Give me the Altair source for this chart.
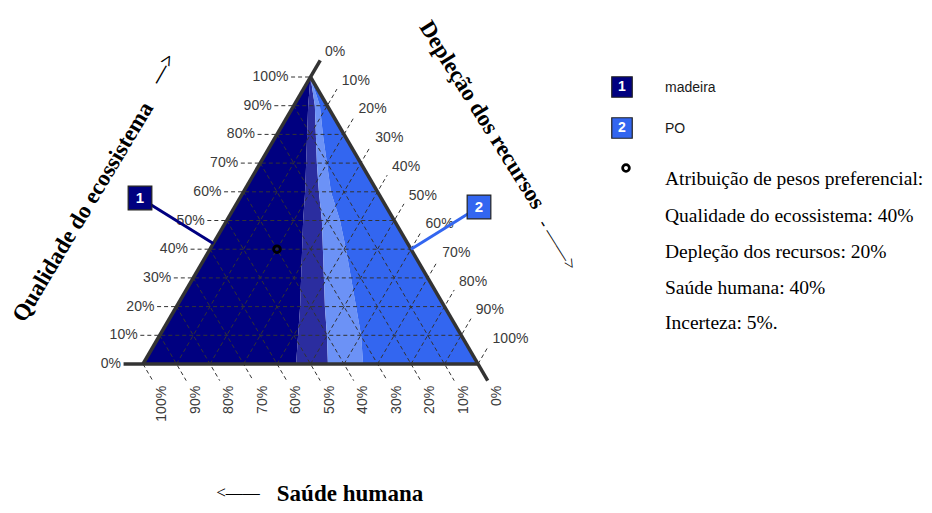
import altair as alt
import pandas as pd
import numpy as np

H = float(np.sqrt(3) / 2)

# ---------------- data ----------------
levels = [0.0, 0.1, 0.2, 0.3, 0.4, 0.5, 0.6, 0.7, 0.8, 0.9, 1.0]
tick_labels = ["0%", "10%", "20%", "30%", "40%", "50%", "60%", "70%", "80%", "90%", "100%"]

# Depleção share (per Qualidade level) where the dominance map changes
navy_end_D = [0.457, 0.413, 0.369, 0.322, 0.275, 0.228, 0.184, 0.137, 0.090, 0.043, 0.0]
mix_mid_D = [0.552, 0.499, 0.443, 0.390, 0.337, 0.284, 0.225, 0.169, 0.116, 0.063, 0.0]
mix_end_D = [0.657, 0.601, 0.536, 0.471, 0.406, 0.338, 0.261, 0.199, 0.137, 0.078, 0.0]

region_names = ["madeira", "mistura madeira", "mistura PO", "PO"]
region_colors = ["#000080", "#2b2d9f", "#6c92f6", "#3366F0"]

pref_Q, pref_D, pref_S = 0.40, 0.20, 0.40

legend_items = ["madeira", "PO"]
legend_nums = ["1", "2"]
legend_colors = ["#000080", "#3366F0"]
legend_notes = [
    "Atribuição de pesos preferencial:",
    "Qualidade do ecossistema: 40%",
    "Depleção dos recursos: 20%",
    "Saúde humana: 40%",
    "Incerteza: 5%.",
]

# ---------------- geometry / scales ----------------
W, HGT = 916, 497
PX_X = 335.0
PX_Y = 287.0 / H
xmin = -135.0 / PX_X
xmax = xmin + W / PX_X
ymax = 356.0 / PX_Y
ymin = ymax - HGT / PX_Y
XS = alt.Scale(domain=[xmin, xmax], nice=False, zero=False)
YS = alt.Scale(domain=[ymin, ymax], nice=False, zero=False)


def pos(px, py):
    """page pixel -> chart units (layout of annotations)"""
    return (px - 143.0) / PX_X, (364.0 - py) / PX_Y


def tern(q, d):
    return d + 0.5 * q, q * H


EXT = 0.058

# ---- regions (one table per region) ----
bounds = []
for i, q in enumerate(levels):
    bounds.append([0.5 * q, tern(q, navy_end_D[i])[0], tern(q, mix_mid_D[i])[0],
                   tern(q, mix_end_D[i])[0], 1 - 0.5 * q])

area_layers = []
for k, (name, col) in enumerate(zip(region_names, region_colors)):
    df = pd.DataFrame({
        "y": [q * H for q in levels],
        "xl": [b[k] for b in bounds],
        "xr": [b[k + 1] for b in bounds],
    })
    area_layers.append(
        alt.Chart(df).mark_area(orient="horizontal", color=col, opacity=1, interpolate="linear").encode(
            y=alt.Y("y:Q", scale=YS, axis=None),
            x=alt.X("xl:Q", scale=XS, axis=None, stack=None),
            x2="xr:Q",
        )
    )

# ---- grid lines ----
grid = []
qlab, dlab, slab = [], [], []
for v, lab in zip(levels, tick_labels):
    y = v * H
    if v > 0:
        grid.append({"x": 0.5 * v - EXT, "y": y, "x2": 1 - 0.5 * v, "y2": y})
    qlab.append({"x": 0.5 * v - 0.066, "y": y, "t": lab})
    xb, yb = v, 0.0
    xe, ye = v + 0.5 * (1 - v), (1 - v) * H
    if v > 0:
        grid.append({"x": xb, "y": yb, "x2": xe + 0.5 * EXT, "y2": ye + H * EXT})
    dlab.append({"x": xe + 0.0435, "y": ye + 0.0753, "t": lab})
    xs_, ys_ = 0.5 * (1 - v), (1 - v) * H
    xb2 = 1 - v
    if v > 0:
        grid.append({"x": xs_, "y": ys_, "x2": xb2 + 0.5 * EXT, "y2": -H * EXT})
    slab.append({"x": xb2 + 0.057, "y": -0.066, "t": lab})

grid = pd.DataFrame(grid)
edges = pd.DataFrame([
    {"x": -EXT, "y": 0.0, "x2": 1.0, "y2": 0.0},
    {"x": 0.5, "y": H, "x2": 1 + 0.5 * EXT, "y2": -H * EXT},
    {"x": 0.0, "y": 0.0, "x2": 0.5 + 0.5 * EXT, "y2": H + H * EXT},
])
qlab = pd.DataFrame(qlab)
dlab = pd.DataFrame(dlab)
slab = pd.DataFrame(slab)


def enc_xy(ch):
    return ch.encode(x=alt.X("x:Q", scale=XS, axis=None), y=alt.Y("y:Q", scale=YS, axis=None))


gridl = alt.Chart(grid).mark_rule(color="#333333", strokeWidth=1, strokeDash=[4, 3]).encode(
    x=alt.X("x:Q", scale=XS, axis=None), y=alt.Y("y:Q", scale=YS, axis=None), x2="x2:Q", y2="y2:Q"
)
edgel = alt.Chart(edges).mark_rule(color="#333333", strokeWidth=3.5).encode(
    x=alt.X("x:Q", scale=XS, axis=None), y=alt.Y("y:Q", scale=YS, axis=None), x2="x2:Q", y2="y2:Q"
)

tick_font = dict(font="Liberation Sans", fontSize=14, color="#3a3a3a")
qtext = enc_xy(alt.Chart(qlab).mark_text(align="right", baseline="middle", **tick_font)).encode(text="t:N")
dtext = enc_xy(alt.Chart(dlab).mark_text(align="left", baseline="middle", **tick_font)).encode(text="t:N")
stext = enc_xy(alt.Chart(slab).mark_text(align="right", baseline="middle", angle=270, **tick_font)).encode(text="t:N")

# leader lines + numbered boxes on the triangle
b1 = pos(140, 198)
b2 = pos(479, 207)
l1 = tern(0.42, 0.0)
l2 = tern(0.40, 0.60)
layers_boxes = []
for (bx, by), (lx, ly), col, num in zip([b1, b2], [l1, l2], legend_colors, legend_nums):
    ld = pd.DataFrame([{"x": bx, "y": by, "x2": lx, "y2": ly}])
    layers_boxes.append(
        alt.Chart(ld).mark_rule(strokeWidth=3, color=col).encode(
            x=alt.X("x:Q", scale=XS, axis=None), y=alt.Y("y:Q", scale=YS, axis=None), x2="x2:Q", y2="y2:Q"
        )
    )
    bd = pd.DataFrame([{"x": bx, "y": by, "n": num}])
    layers_boxes.append(enc_xy(alt.Chart(bd).mark_square(size=560, opacity=1, color=col, stroke="#222222", strokeWidth=1.2)))
    layers_boxes.append(enc_xy(alt.Chart(bd).mark_text(font="Liberation Sans", fontSize=15, fontWeight="bold", color="white")).encode(text="n:N"))

for (px, py), col, num, name in zip([(622, 87), (622, 128)], legend_colors, legend_nums, legend_items):
    bx, by = pos(px, py)
    bd = pd.DataFrame([{"x": bx, "y": by, "n": num}])
    layers_boxes.append(enc_xy(alt.Chart(bd).mark_square(size=420, opacity=1, color=col, stroke="#222222", strokeWidth=1.2)))
    layers_boxes.append(enc_xy(alt.Chart(bd).mark_text(font="Liberation Sans", fontSize=14, fontWeight="bold", color="white")).encode(text="n:N"))
    tx, ty = pos(665, py + 1)
    td = pd.DataFrame([{"x": tx, "y": ty, "t": name}])
    layers_boxes.append(enc_xy(alt.Chart(td).mark_text(align="left", baseline="middle", font="Liberation Sans", fontSize=14, color="#1a1a1a")).encode(text="t:N"))

# preferential weighting point (in triangle and legend)
px_, py_ = tern(pref_Q, pref_D)
lgc = pos(626, 168)
pts = pd.DataFrame([{"x": px_, "y": py_}, {"x": lgc[0], "y": lgc[1]}])
ptl = enc_xy(alt.Chart(pts).mark_point(shape="circle", size=45, filled=False, color="black", strokeWidth=2.8, opacity=1))

note_y = [179, 216, 252, 288, 323]
nt = pd.DataFrame([{"x": pos(665, yy)[0], "y": pos(665, yy)[1], "t": t} for yy, t in zip(note_y, legend_notes)])
leg_serif = enc_xy(alt.Chart(nt).mark_text(align="left", baseline="middle", font="Liberation Serif", fontSize=19.5, color="black")).encode(text="t:N")


def label(text, px, py, angle, size, weight="bold", font="Liberation Serif", align="center", baseline="middle"):
    x, y = pos(px, py)
    kw = dict(align=align, baseline=baseline, font=font, fontSize=size, fontWeight=weight, color="black")
    if angle:
        kw["angle"] = angle
    return enc_xy(alt.Chart(pd.DataFrame([{"x": x, "y": y, "t": text}])).mark_text(**kw)).encode(text="t:N")


titles = [
    label("Qualidade do ecossistema", 83, 212, 301, 23),
    label("—>", 163, 69, 300, 20, weight="bold"),
    label("Depleção dos recursos", 482, 115, 58, 23),
    label("- ——>", 557, 245, 58, 18, weight="normal"),
    label("Saúde humana", 350, 501, 0, 23, baseline="alphabetic"),
    label("<——", 238, 498, 0, 17, weight="normal", baseline="alphabetic"),
]

chart = alt.layer(
    *area_layers, gridl, edgel, qtext, dtext, stext, *layers_boxes, ptl, leg_serif, *titles
).properties(
    width=W, height=HGT, autosize=alt.AutoSizeParams(type="none"), padding=0, background="white"
).configure_view(stroke=None)

chart.save("out.html", embed_options={"renderer": "svg", "actions": False})
